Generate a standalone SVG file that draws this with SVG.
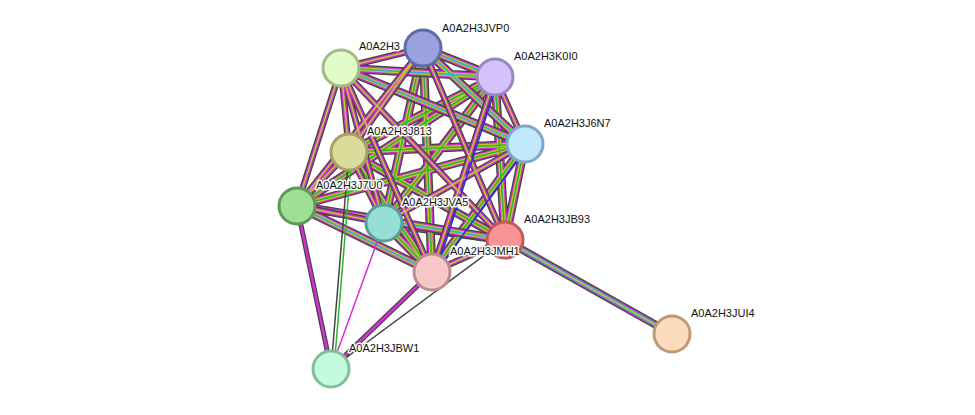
<svg xmlns="http://www.w3.org/2000/svg" width="975" height="415" viewBox="0 0 975 415">
<style>
.e{fill:none;stroke-linecap:butt}
.k{stroke:#444}.m{stroke:#d62ed6}.y{stroke:#b8cc2a}.g{stroke:#2db52d}.c{stroke:#2ab0cc}.b{stroke:#2b2bee}
.n circle{stroke-width:3}
text{font-family:"Liberation Sans",Arial,sans-serif;font-size:11px;fill:#111;stroke:#fff;stroke-width:3;paint-order:stroke;stroke-linejoin:round}
</style>
<defs>
<path id="pf" d="M495,77L349,152M495,77L297,206M495,77L384,223M525,144L349,152M525,144L297,206M525,144L432,272M349,152L432,272M384,223L432,272M505,240L495,77M505,240L525,144M423,48L432,272M349,152L505,240M384,223L505,240M423,48L384,223"/>
<path id="pc" d="M341,68L495,77M341,68L525,144M297,206L432,272M297,206L505,240M423,48L495,77M423,48L525,144"/>
<path id="pk" d="M341,68L423,48M341,68L349,152M341,68L297,206M341,68L384,223M341,68L432,272M341,68L505,240M423,48L349,152M423,48L297,206M423,48L505,240M495,77L525,144M349,152L297,206M349,152L384,223M297,206L384,223M525,144L384,223M495,77L432,272M432,272L505,240"/>
<path id="pb" d="M495,77L432,272M525,144L432,272"/>
<path id="pj" d="M505,240L672,334"/>
</defs>
<g id="connectors">
<use href="#pf" class="e k" stroke-width="9"/><use href="#pf" class="e m" stroke-width="6.5"/><use href="#pf" class="e y" stroke-width="4"/><use href="#pf" class="e g" stroke-width="1.5"/>
<use href="#pc" class="e k" stroke-width="9"/><use href="#pc" class="e m" stroke-width="6.5"/><use href="#pc" class="e y" stroke-width="4"/><use href="#pc" class="e c" stroke-width="1.5"/>
<use href="#pk" class="e k" stroke-width="6.5"/><use href="#pk" class="e m" stroke-width="4"/><use href="#pk" class="e y" stroke-width="1.5"/>
<use href="#pb" class="e b" stroke-width="1.5" transform="translate(4,0)"/>
<use href="#pj" class="e k" stroke-width="8"/><use href="#pj" class="e m" stroke-width="5.5"/><use href="#pj" class="e c" stroke-width="3.5"/><use href="#pj" class="e y" stroke-width="1.5"/>
<path class="e k" stroke-width="5" d="M297,206L331,369M432,272L331,369"/>
<path class="e m" stroke-width="2.5" d="M297,206L331,369M432,272L331,369"/>
<path class="e k" stroke-width="1.5" d="M349,152L331,369M505,240L331,369"/>
<path class="e g" stroke-width="1.5" d="M352,152L334,369"/>
<path class="e m" stroke-width="1.5" d="M384,223L331,369"/>
</g>
<g id="A0A2H3" class="n"><circle cx="341" cy="68" r="18" fill="#e1fcc8" stroke="#a2bb82"/><text x="359" y="50">A0A2H3</text></g>
<g id="A0A2H3JVP0" class="n"><circle cx="423" cy="48" r="18" fill="#9aa2de" stroke="#5f6aa8"/><text x="442" y="32">A0A2H3JVP0</text></g>
<g id="A0A2H3K0I0" class="n"><circle cx="495" cy="77" r="18" fill="#d5c2fc" stroke="#9a86c0"/><text x="514" y="60">A0A2H3K0I0</text></g>
<g id="A0A2H3J6N7" class="n"><circle cx="525" cy="144" r="18" fill="#c2e8fc" stroke="#7fa8c6"/><text x="544" y="127">A0A2H3J6N7</text></g>
<g id="A0A2H3J813" class="n"><circle cx="349" cy="152" r="18" fill="#dcdb9a" stroke="#a3a164"/><text x="367" y="135">A0A2H3J813</text></g>
<g id="A0A2H3J7U0" class="n"><circle cx="297" cy="206" r="18" fill="#9edf96" stroke="#5d9a55"/><text x="316" y="189">A0A2H3J7U0</text></g>
<g id="A0A2H3JVA5" class="n"><circle cx="384" cy="223" r="18" fill="#97dfd4" stroke="#58a096"/><text x="402" y="206">A0A2H3JVA5</text></g>
<g id="A0A2H3JB93" class="n"><circle cx="505" cy="240" r="18" fill="#f99494" stroke="#c05a5a"/><text x="524" y="223">A0A2H3JB93</text></g>
<g id="A0A2H3JMH1" class="n"><circle cx="432" cy="272" r="18" fill="#f8c8c8" stroke="#bb8c8c"/><text x="450" y="255">A0A2H3JMH1</text></g>
<g id="A0A2H3JUI4" class="n"><circle cx="672" cy="334" r="18" fill="#fcdcbc" stroke="#c09a78"/><text x="691" y="317">A0A2H3JUI4</text></g>
<g id="A0A2H3JBW1" class="n"><circle cx="331" cy="369" r="18" fill="#c2fcdc" stroke="#7fbf9a"/><text x="349" y="352">A0A2H3JBW1</text></g>
</svg>
